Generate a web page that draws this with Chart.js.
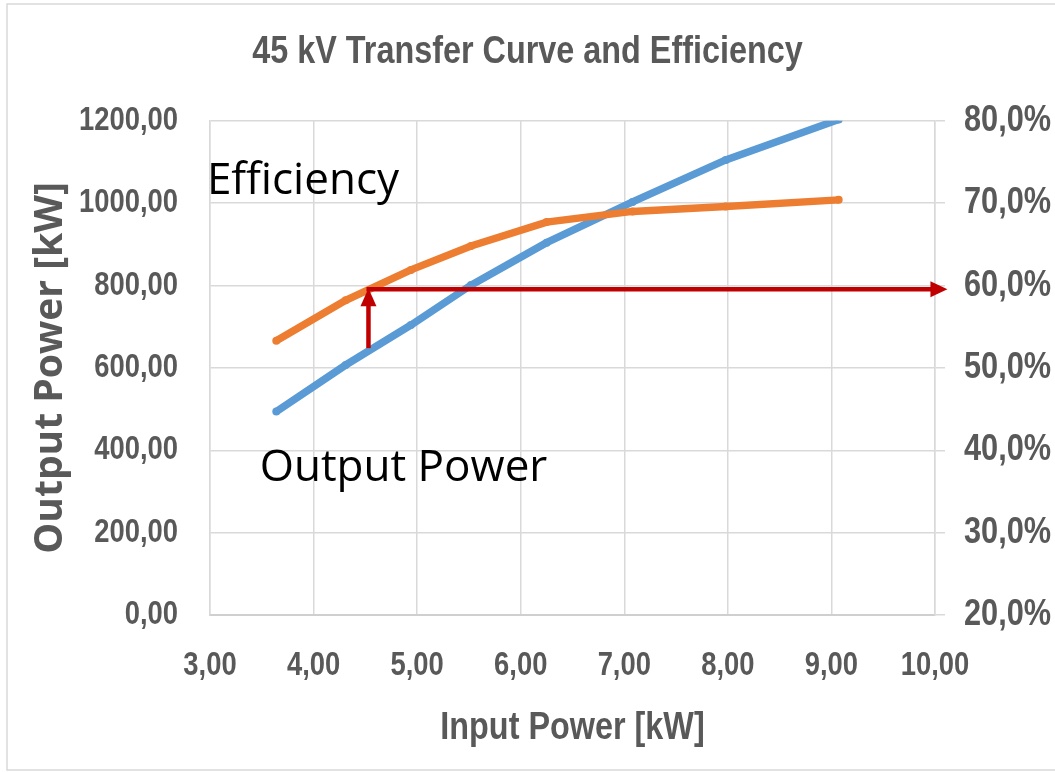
<!DOCTYPE html>
<html>
<head>
<meta charset="utf-8">
<title>45 kV Transfer Curve and Efficiency</title>
<script src="https://cdn.jsdelivr.net/npm/chart.js@4.4.1/dist/chart.umd.min.js"></script>
<style>
  html, body { margin: 0; padding: 0; background: #fff; }
  #wrap { width: 1055px; height: 772px; }
</style>
</head>
<body>
<div id="wrap"><canvas id="chart" width="1055" height="772"></canvas></div>
<script>
// ===== 45 kV Transfer Curve and Efficiency =====

// Input power [kW] of each measurement
const inputPower = [3.64, 4.31, 4.94, 5.52, 6.25, 7.08, 7.98, 9.07];
// Output power [kW] (left axis)
const outputPower = [494, 607, 704, 801, 904, 1003, 1105, 1203];
// Efficiency [%] (right axis)
const efficiency = [53.3, 58.2, 61.9, 64.8, 67.7, 69.0, 69.6, 70.4];

// Axis ranges
const xRange = [3, 10];
const leftRange = [0, 1200];
const rightRange = [20, 80];

// Red arrow: up from the output curve, then across to the efficiency axis
const arrowX = 4.53;       // kW input
const arrowFrom = 648;     // kW output
const arrowLevel = 791;    // kW output
const arrowEndX = 10.12;   // kW input

// Curve labels [text, x, y(kW)]
const curveLabels = [
    ["Efficiency", 2.97, 1023],
    ["Output Power", 3.48, 325]
];

const grey = "#595959";
const gridGrey = "#d9d9d9";
const narrow = "'Liberation Sans', Arial, sans-serif";
const squeeze = 0.83;   // the original uses a condensed face

const comma = (v, d) => v.toFixed(d).replace(".", ",");

const ctx = document.getElementById("chart").getContext("2d");

// no condensed font installed: squeeze Liberation text around its anchor
const rawFillText = ctx.fillText.bind(ctx);
ctx.fillText = function (text, x, y, maxWidth) {
    if (!this.font.includes("Liberation")) return rawFillText(text, x, y, maxWidth);
    this.save();
    this.translate(x, y);
    this.scale(squeeze, 1);
    rawFillText(text, 0, 0, maxWidth);
    this.restore();
};

// White card with a thin frame behind the chart
const framePlugin = {
    id: "frame",
    beforeDraw(chart) {
        const c = chart.ctx;
        c.save();
        c.fillStyle = "#fff";
        c.fillRect(0, 0, chart.width, chart.height);
        c.strokeStyle = gridGrey;
        c.lineWidth = 1.5;
        c.strokeRect(7, 4, chart.width + 20, chart.height - 6);
        c.restore();
    }
};

// Curve names and the red arrow
const notesPlugin = {
    id: "notes",
    afterDraw(chart) {
        const c = chart.ctx;
        const xs = chart.scales.x, ys = chart.scales.y;
        c.save();

        c.fillStyle = "#000";
        c.font = "44px 'Open Sans', sans-serif";
        c.textBaseline = "alphabetic";
        c.textAlign = "left";
        curveLabels.forEach(([text, x, y]) => {
            c.fillText(text, xs.getPixelForValue(x), ys.getPixelForValue(y));
        });

        const red = "#c00000";
        const head = 17, half = 8;
        const ax = xs.getPixelForValue(arrowX);
        const y0 = ys.getPixelForValue(arrowFrom);
        const y1 = ys.getPixelForValue(arrowLevel);
        const x1 = xs.getPixelForValue(arrowEndX);

        c.strokeStyle = red;
        c.fillStyle = red;
        c.lineWidth = 4.5;
        c.lineCap = "butt";

        // vertical shaft + head
        c.beginPath();
        c.moveTo(ax, y0);
        c.lineTo(ax, y1 + head - 1);
        c.stroke();
        c.beginPath();
        c.moveTo(ax, y1 - 1);
        c.lineTo(ax - half, y1 + head);
        c.lineTo(ax + half, y1 + head);
        c.closePath();
        c.fill();

        // horizontal shaft + head
        c.beginPath();
        c.moveTo(ax - 2, y1);
        c.lineTo(x1 - head + 1, y1);
        c.stroke();
        c.beginPath();
        c.moveTo(x1, y1);
        c.lineTo(x1 - head, y1 - half);
        c.lineTo(x1 - head, y1 + half);
        c.closePath();
        c.fill();

        c.restore();
    }
};

new Chart(ctx, {
    type: "line",
    data: {
        datasets: [
            {
                label: "Efficiency",
                data: inputPower.map((x, i) => ({ x: x, y: efficiency[i] })),
                yAxisID: "y2",
                borderColor: "#ed7d31",
                backgroundColor: "#ed7d31",
                borderWidth: 7.5,
                pointRadius: 4,
                pointBorderWidth: 0,
                tension: 0,
                fill: false
            },
            {
                label: "Output Power",
                data: inputPower.map((x, i) => ({ x: x, y: outputPower[i] })),
                yAxisID: "y",
                borderColor: "#5b9bd5",
                backgroundColor: "#5b9bd5",
                borderWidth: 7.5,
                pointRadius: 4,
                pointBorderWidth: 0,
                tension: 0,
                fill: false
            }
        ]
    },
    options: {
        responsive: false,
        animation: false,
        layout: { padding: 0 },
        plugins: {
            legend: { display: false },
            tooltip: { enabled: false },
            title: {
                display: true,
                text: "45 kV Transfer Curve and Efficiency",
                color: grey,
                font: { family: narrow, size: 39, weight: "bold" },
                padding: { top: 29, bottom: 45 }
            }
        },
        scales: {
            x: {
                type: "linear",
                position: "bottom",
                min: xRange[0],
                max: xRange[1],
                afterFit(s) { s.height = 157; },
                ticks: {
                    stepSize: 1,
                    color: grey,
                    padding: 31,
                    maxRotation: 0,
                    autoSkip: false,
                    font: { family: narrow, size: 33, weight: "bold" },
                    callback: v => comma(v, 2)
                },
                grid: { color: gridGrey, lineWidth: 1.5, drawTicks: false },
                border: { color: "#cfcfcf", width: 2 },
                title: {
                    display: true,
                    text: "Input Power [kW]",
                    color: grey,
                    font: { family: narrow, size: 39, weight: "bold" },
                    padding: { top: 0, bottom: 20 }
                }
            },
            y: {
                position: "left",
                min: leftRange[0],
                max: leftRange[1],
                afterFit(s) { s.width = 210; },
                ticks: {
                    stepSize: 200,
                    color: grey,
                    padding: 32,
                    font: { family: narrow, size: 33, weight: "bold" },
                    callback: v => comma(v, 2)
                },
                grid: { color: gridGrey, lineWidth: 1.5, drawTicks: false },
                border: { color: gridGrey, width: 1.5 },
                title: {
                    display: true,
                    text: "Output Power [kW]",
                    color: grey,
                    font: { family: "'Open Sans', sans-serif", size: 39, weight: "bold" },
                    padding: { top: 27, bottom: 0 }
                }
            },
            y2: {
                position: "right",
                min: rightRange[0],
                max: rightRange[1],
                afterFit(s) { s.width = 120; },
                ticks: {
                    stepSize: 10,
                    color: grey,
                    padding: 19,
                    font: { family: narrow, size: 37, weight: "bold" },
                    callback: v => comma(v, 1) + "%"
                },
                grid: { color: gridGrey, lineWidth: 1.5, drawOnChartArea: false, tickLength: 10 },
                border: { color: gridGrey, width: 1.5 }
            }
        }
    },
    plugins: [framePlugin, notesPlugin]
});
</script>
</body>
</html>
